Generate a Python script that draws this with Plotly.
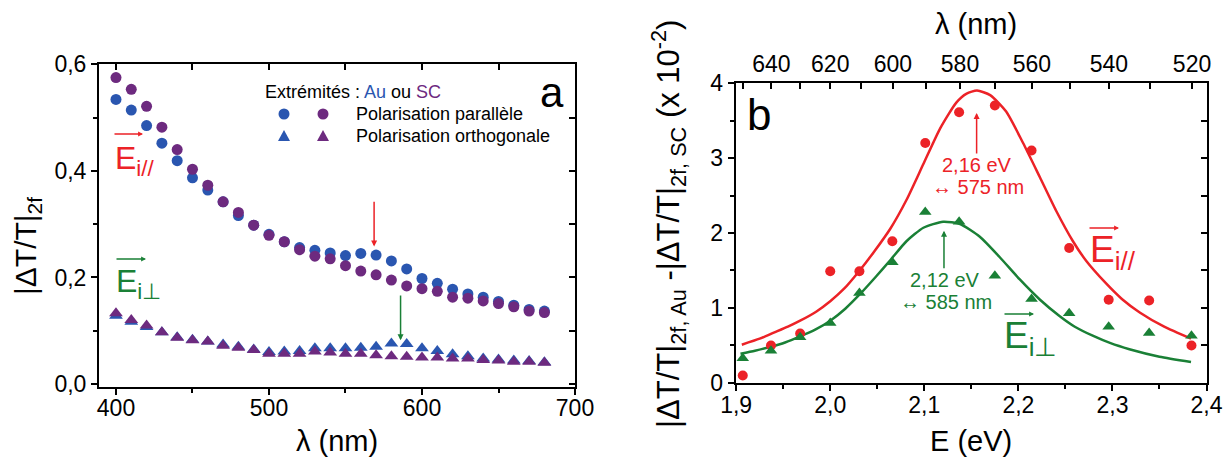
import plotly.graph_objects as go

# ---------------- data : panel a ----------------
wavelength_nm = [400, 410, 420, 430, 440, 450, 460, 470, 480, 490, 500, 510, 520, 530, 540,
                 550, 560, 570, 580, 590, 600, 610, 620, 630, 640, 650, 660, 670, 680]
au_parallel = [0.534, 0.514, 0.485, 0.452, 0.419, 0.387, 0.364, 0.342, 0.316, 0.298, 0.281, 0.267,
               0.256, 0.251, 0.246, 0.241, 0.245, 0.242, 0.231, 0.216, 0.198, 0.189, 0.178, 0.169,
               0.163, 0.155, 0.148, 0.140, 0.137]
sc_parallel = [0.575, 0.553, 0.521, 0.482, 0.440, 0.403, 0.373, 0.342, 0.322, 0.298, 0.279, 0.267,
               0.252, 0.240, 0.235, 0.222, 0.212, 0.205, 0.195, 0.184, 0.179, 0.174, 0.163, 0.161,
               0.156, 0.151, 0.145, 0.137, 0.134]
au_orthogonal = [0.128, 0.117, 0.107, 0.097, 0.088, 0.083, 0.080, 0.074, 0.070, 0.065, 0.060, 0.061,
                 0.062, 0.067, 0.067, 0.067, 0.068, 0.070, 0.076, 0.075, 0.067, 0.062, 0.056, 0.052,
                 0.048, 0.046, 0.044, 0.043, 0.041]
sc_orthogonal = [0.133, 0.120, 0.110, 0.097, 0.087, 0.082, 0.080, 0.072, 0.068, 0.064, 0.057, 0.057,
                 0.057, 0.061, 0.059, 0.057, 0.057, 0.054, 0.052, 0.051, 0.050, 0.050, 0.048, 0.048,
                 0.045, 0.044, 0.042, 0.042, 0.040]

# ---------------- data : panel b ----------------
energy_eV = [1.907, 1.937, 1.968, 2.000, 2.031, 2.066, 2.101, 2.137, 2.175, 2.214, 2.254, 2.296, 2.339, 2.384]
diff_parallel = [0.10, 0.50, 0.66, 1.49, 1.49, 1.89, 3.20, 3.61, 3.70, 3.10, 1.80, 1.11, 1.10, 0.50]
diff_orthogonal = [0.33, 0.43, 0.61, 0.80, 1.20, 1.61, 2.28, 2.15, 1.43, 1.12, 0.93, 0.75, 0.665, 0.63]

fit_parallel_E = [1.906, 1.925, 1.940, 1.955, 1.968, 1.985, 2.000, 2.015, 2.030, 2.046, 2.064, 2.081,
                  2.099, 2.117, 2.134, 2.145, 2.156, 2.170, 2.187, 2.205, 2.223, 2.240, 2.258,
                  2.272, 2.293, 2.310, 2.329, 2.355, 2.3835]
fit_parallel_V = [0.51, 0.59, 0.67, 0.75, 0.83, 0.95, 1.09, 1.26, 1.48, 1.74, 2.06, 2.44,
                  2.92, 3.40, 3.74, 3.86, 3.90, 3.84, 3.62, 3.20, 2.74, 2.30, 1.89,
                  1.63, 1.33, 1.12, 0.94, 0.75, 0.59]
fit_orthogonal_E = [1.9046, 1.920, 1.936, 1.952, 1.968, 1.984, 2.000, 2.016, 2.032, 2.048, 2.064,
                    2.081, 2.099, 2.120, 2.138, 2.159, 2.180, 2.2015, 2.223, 2.244, 2.260, 2.279,
                    2.298, 2.318, 2.350, 2.3835]
fit_orthogonal_V = [0.39, 0.43, 0.48, 0.54, 0.62, 0.71, 0.83, 0.99, 1.19, 1.41, 1.64,
                    1.89, 2.07, 2.15, 2.12, 1.95, 1.68, 1.38, 1.11, 0.89, 0.75, 0.63,
                    0.53, 0.45, 0.35, 0.28]

# tick labels
a_x_ticks = [400, 500, 600, 700]
a_y_ticks = [0.0, 0.2, 0.4, 0.6]
b_x_ticks = [1.9, 2.0, 2.1, 2.2, 2.3, 2.4]
b_y_ticks = [0, 1, 2, 3, 4]
b_top_lambda = [650, 640, 630, 620, 610, 600, 590, 580, 570, 560, 550, 540, 530, 520]
b_top_labelled = [640, 620, 600, 580, 560, 540, 520]

# ---------------- styling ----------------
OFF = 8                      # default page margin of the html body
FW, FH = 1231 - 2 * OFF, 468 - 2 * OFF
FONT = "Liberation Sans, Arial, sans-serif"
BLUE = "#2A56B0"
PURPLE = "#6D2A7F"
RED = "#EC2227"
GREEN = "#1A8036"


def px(x):
    return (x - OFF) / FW


def py(y):
    return 1 - (y - OFF) / FH


fig = go.Figure()

# panel a traces
fig.add_trace(go.Scatter(x=wavelength_nm, y=au_parallel, mode="markers",
                         marker=dict(symbol="circle", size=11, color=BLUE), xaxis="x", yaxis="y"))
fig.add_trace(go.Scatter(x=wavelength_nm, y=sc_parallel, mode="markers",
                         marker=dict(symbol="circle", size=11, color=PURPLE), xaxis="x", yaxis="y"))
fig.add_trace(go.Scatter(x=wavelength_nm, y=au_orthogonal, mode="markers",
                         marker=dict(symbol="triangle-up", size=12, color=BLUE), xaxis="x", yaxis="y"))
fig.add_trace(go.Scatter(x=wavelength_nm, y=sc_orthogonal, mode="markers",
                         marker=dict(symbol="triangle-up", size=12, color=PURPLE), xaxis="x", yaxis="y"))

# panel b traces
fig.add_trace(go.Scatter(x=fit_parallel_E, y=fit_parallel_V, mode="lines",
                         line=dict(color=RED, width=2.5, shape="spline", smoothing=0.6),
                         xaxis="x2", yaxis="y2"))
fig.add_trace(go.Scatter(x=fit_orthogonal_E, y=fit_orthogonal_V, mode="lines",
                         line=dict(color=GREEN, width=2.5, shape="spline", smoothing=0.6),
                         xaxis="x2", yaxis="y2"))
fig.add_trace(go.Scatter(x=energy_eV, y=diff_parallel, mode="markers",
                         marker=dict(symbol="circle", size=10, color=RED), xaxis="x2", yaxis="y2"))
fig.add_trace(go.Scatter(x=energy_eV, y=diff_orthogonal, mode="markers",
                         marker=dict(symbol="triangle-up", size=11, color=GREEN), xaxis="x2", yaxis="y2"))

# empty traces to instantiate the mirror / top axes
for xa, ya in [("x4", "y"), ("x", "y3"), ("x3", "y2"), ("x2", "y4")]:
    fig.add_trace(go.Scatter(x=[], y=[], xaxis=xa, yaxis=ya, hoverinfo="skip"))

tickfont = dict(family=FONT, size=23, color="black")
base = dict(showline=True, linecolor="black", linewidth=2, showgrid=False, zeroline=False,
            ticks="outside", tickwidth=2, ticklen=6, tickcolor="black", tickfont=tickfont,
            automargin=False)

xa_range = [388.9, 700]
ya_range = [-0.005, 0.6005]
xb_range = [1.8995, 2.4005]
yb_range = [-0.005, 4.005]

fig.update_layout(
    width=FW, height=FH,
    margin=dict(l=0, r=0, t=0, b=0),
    paper_bgcolor="white", plot_bgcolor="white",
    showlegend=False,
    separators=", ",
    font=dict(family=FONT, color="black"),
    xaxis=dict(base, domain=[px(99), px(575)], anchor="y", range=xa_range,
               tickmode="array", tickvals=a_x_ticks, ticklabelstandoff=-6,
               minor=dict(dtick=50, tick0=400, ticks="outside", ticklen=4, tickwidth=2, tickcolor="black")),
    yaxis=dict(base, domain=[py(386.7), py(64)], anchor="x", range=ya_range,
               tickmode="array", tickvals=a_y_ticks, tickformat=".1f",
               minor=dict(dtick=0.1, tick0=0, ticks="outside", ticklen=4, tickwidth=2, tickcolor="black")),
    xaxis4=dict(base, overlaying="x", anchor="y", side="top", range=xa_range,
                ticks="inside", ticklen=6, dtick=50, tick0=400, showticklabels=False),
    yaxis3=dict(base, overlaying="y", anchor="x", side="right", range=ya_range,
                ticks="inside", ticklen=6, dtick=0.1, tick0=0, showticklabels=False),
    xaxis2=dict(base, domain=[px(735.7), px(1207)], anchor="y2", range=xb_range,
                tickmode="array", tickvals=b_x_ticks, tickformat=".1f", ticklabelstandoff=-6,
                minor=dict(dtick=0.05, tick0=1.9, ticks="outside", ticklen=4, tickwidth=2, tickcolor="black")),
    yaxis2=dict(base, domain=[py(383.3), py(82.7)], anchor="x2", range=yb_range,
                tickmode="array", tickvals=b_y_ticks,
                minor=dict(dtick=0.5, tick0=0, ticks="outside", ticklen=4, tickwidth=2, tickcolor="black")),
    xaxis3=dict(base, overlaying="x2", anchor="y2", side="top", range=xb_range,
                ticks="inside", ticklen=6, tickmode="array",
                tickvals=[1240.0 / l for l in b_top_lambda],
                ticktext=[str(l) if l in b_top_labelled else "" for l in b_top_lambda]),
    yaxis4=dict(base, overlaying="y2", anchor="x2", side="right", range=yb_range,
                ticks="inside", ticklen=6, dtick=0.5, tick0=0, showticklabels=False),
)

ann = []


def text(x, y, s, size, color="black", xanchor="center", yanchor="middle", angle=0):
    ann.append(dict(xref="paper", yref="paper", x=px(x), y=py(y), text=s, showarrow=False,
                    xanchor=xanchor, yanchor=yanchor, textangle=angle,
                    font=dict(family=FONT, size=size, color=color)))


def vec_arrow(x0, x1, y, color):
    ann.append(dict(xref="paper", yref="paper", x=px(x1), y=py(y), ax=x0 - x1, ay=0, text="",
                    showarrow=True, arrowhead=2, arrowsize=0.7, arrowwidth=1.4, arrowcolor=color))


def data_arrow(xr, yr, x, ytail, ytip, color):
    ann.append(dict(xref=xr, yref=yr, axref=xr, ayref=yr, x=x, y=ytip, ax=x, ay=ytail, text="",
                    showarrow=True, arrowhead=2, arrowsize=0.8, arrowwidth=1.5, arrowcolor=color))


# axis titles
text(27, 246, "|ΔT/T|<sub>2f</sub>", 30, angle=-90)
text(337, 441, "λ (nm)", 29)
text(668, 224, "|ΔT/T|<sub>2f, Au</sub> -|ΔT/T|<sub>2f, SC</sub> (x 10<sup>-2</sup>)", 31, angle=-90)
text(971, 441, "E (eV)", 29)
text(976, 24, "λ (nm)", 29)

# panel labels
text(552, 92, "a", 42)
text(759, 114, "b", 44)

# legend
text(263, 92, f"Extrémités : <span style='color:{BLUE}'>Au</span> ou "
              f"<span style='color:{PURPLE}'>SC</span>", 18, xanchor="left")
text(354, 114, "Polarisation parallèle", 18, xanchor="left")
text(354, 136, "Polarisation orthogonale", 18, xanchor="left")

shapes = []
for cx, col in [(284, BLUE), (323, PURPLE)]:
    shapes.append(dict(type="circle", xref="paper", yref="paper",
                       x0=px(cx - 5.5), x1=px(cx + 5.5), y0=py(114 + 5.5), y1=py(114 - 5.5),
                       fillcolor=col, line=dict(width=0)))
    shapes.append(dict(type="path", xref="paper", yref="paper",
                       path=f"M {px(cx - 6)},{py(141)} L {px(cx + 6)},{py(141)} L {px(cx)},{py(130)} Z",
                       fillcolor=col, line=dict(width=0)))

# E vectors panel a
text(113, 160, "E<sub>i//</sub>", 32, color=RED, xanchor="left")
vec_arrow(113, 143, 134, RED)
text(114, 283, "E<sub>i⊥</sub>", 32, color=GREEN, xanchor="left")
vec_arrow(115, 146, 259, GREEN)

# E vectors panel b
text(1088, 252, "E<sub>i//</sub>", 37, color=RED, xanchor="left")
vec_arrow(1088, 1119, 228, RED)
text(1002, 338, "E<sub>i⊥</sub>", 37, color=GREEN, xanchor="left")
vec_arrow(1003, 1034, 314, GREEN)

# peak arrows
data_arrow("x", "y", 568.7, 0.345, 0.258, RED)
data_arrow("x", "y", 586.0, 0.169, 0.082, GREEN)
data_arrow("x2", "y2", 2.1556, 3.04, 3.60, RED)
data_arrow("x2", "y2", 2.1209, 1.51, 2.03, GREEN)

# peak labels
text(977, 165, "2,16 eV", 20, color=RED)
text(978, 187, "↔ 575 nm", 20, color=RED)
text(945, 280, "2,12 eV", 20, color=GREEN)
text(946, 302, "↔ 585 nm", 20, color=GREEN)

fig.update_layout(annotations=ann, shapes=shapes)
fig.write_html("out.html")
